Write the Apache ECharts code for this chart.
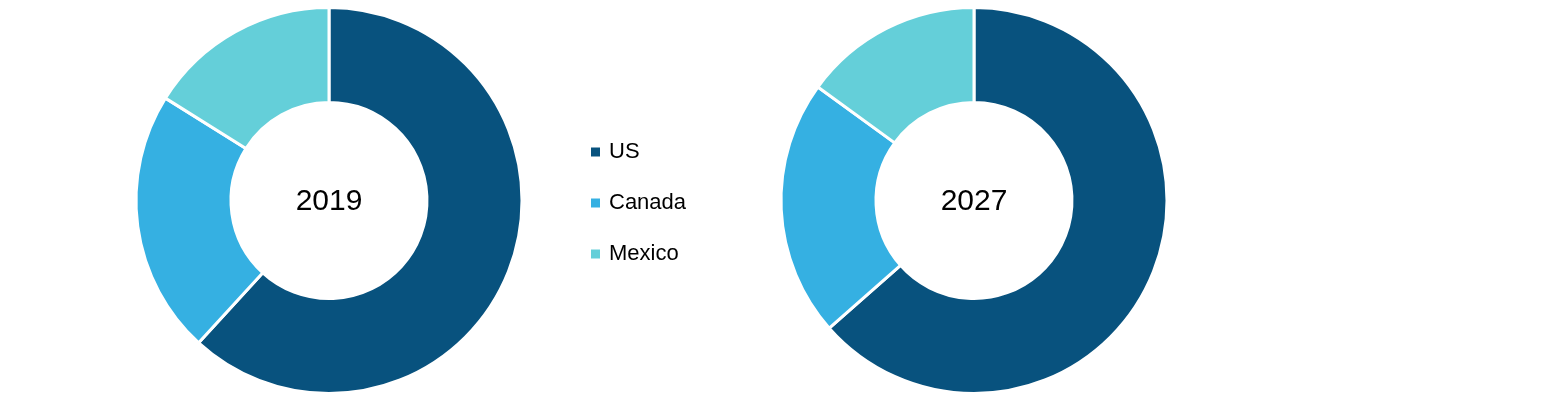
<!DOCTYPE html>
<html>
<head>
<meta charset="utf-8">
<script src="https://cdn.jsdelivr.net/npm/echarts@6/dist/echarts.min.js"></script>
<style>
  html, body { margin: 0; padding: 0; background: #fff; }
  #chart { width: 1558px; height: 400px; }
</style>
</head>
<body>
<div id="chart"></div>
<script>
const categories = ['US', 'Canada', 'Mexico'];
const colors = ['#08527E', '#35B0E2', '#64CFD9'];
const years = ['2019', '2027'];
const values2019 = [61.8, 22.1, 16.1];
const values2027 = [63.5, 21.5, 15.0];

const chart = echarts.init(document.getElementById('chart'));
const font = '"Liberation Sans", Arial, sans-serif';

function makeData(vals) {
  return categories.map((c, i) => ({ name: c, value: vals[i] }));
}

const centers = [[329, 200.5], [974, 200.5]];

const option = {
  animation: false,
  color: colors,
  title: years.map((y, i) => ({
    text: y,
    left: centers[i][0],
    top: centers[i][1] + 1,
    padding: 0,
    textAlign: 'center',
    textVerticalAlign: 'middle',
    textStyle: { fontFamily: font, fontSize: 30, fontWeight: 'normal', color: '#000' }
  })),
  legend: {
    orient: 'vertical',
    left: 589,
    top: 141,
    padding: 0,
    icon: 'rect',
    itemWidth: 11,
    itemHeight: 11,
    itemGap: 29,
    data: categories,
    textStyle: { fontFamily: font, fontSize: 22, color: '#000', lineHeight: 22, padding: [0, 0, 0, 3] }
  },
  series: [values2019, values2027].map((vals, i) => ({
    type: 'pie',
    name: years[i],
    center: centers[i],
    radius: [98, 193],
    startAngle: 90,
    clockwise: true,
    label: { show: false },
    labelLine: { show: false },
    emphasis: { disabled: true },
    itemStyle: { borderColor: '#fff', borderWidth: 3 },
    data: makeData(vals)
  }))
};
chart.setOption(option);
</script>
</body>
</html>
